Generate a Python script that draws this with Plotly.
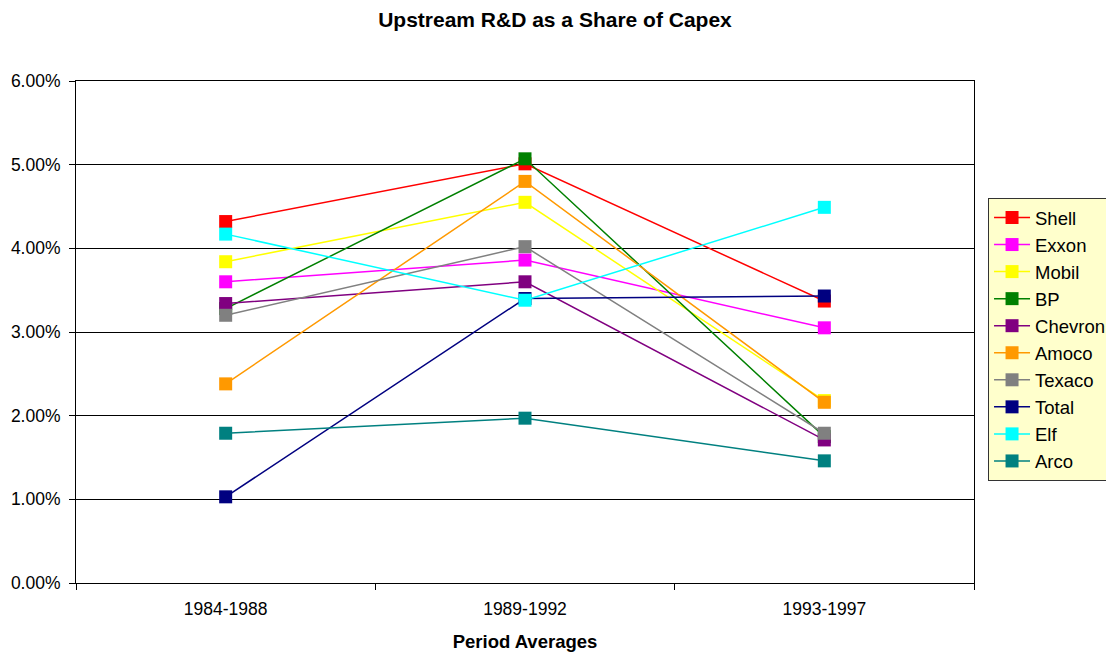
import plotly.graph_objects as go

periods = ["1984-1988", "1989-1992", "1993-1997"]
companies = ["Shell", "Exxon", "Mobil", "BP", "Chevron", "Amoco", "Texaco", "Total", "Elf", "Arco"]
shell = [0.0432, 0.0501, 0.0337]
exxon = [0.0360, 0.0386, 0.0305]
mobil = [0.0384, 0.0455, 0.0218]
bp = [0.0328, 0.0507, 0.0175]
chevron = [0.0334, 0.0360, 0.0171]
amoco = [0.0238, 0.0480, 0.0216]
texaco = [0.0320, 0.0402, 0.0179]
total = [0.0103, 0.0340, 0.0343]
elf = [0.0417, 0.0338, 0.0449]
arco = [0.0179, 0.0197, 0.0146]
series = [shell, exxon, mobil, bp, chevron, amoco, texaco, total, elf, arco]
colors = ["#FF0000", "#FF00FF", "#FFFF00", "#008000", "#800080",
          "#FF9900", "#808080", "#000080", "#00FFFF", "#008080"]
y_ticks = [0, 0.01, 0.02, 0.03, 0.04, 0.05, 0.06]

fig = go.Figure()
for name, vals, col in zip(companies, series, colors):
    fig.add_trace(go.Scatter(
        x=periods, y=vals, name=name, mode="lines+markers",
        line=dict(color=col, width=1.5),
        marker=dict(symbol="square", size=13, color=col),
    ))

fig.update_layout(
    width=1114, height=653,
    margin=dict(l=68, r=147, t=73, b=78),
    paper_bgcolor="white", plot_bgcolor="white",
    font=dict(family="Liberation Sans, Arial, sans-serif", color="black"),
    title=dict(text="<b>Upstream R&D as a Share of Capex</b>",
               x=0.491, xanchor="center", y=0.982, yanchor="middle",
               font=dict(size=21)),
    showlegend=True,
    legend=dict(x=1.0145, xanchor="left", y=0.767, yanchor="top",
                bgcolor="#FFFFCC", bordercolor="#333333", borderwidth=1,
                font=dict(size=18.5), tracegroupgap=0,
                itemwidth=36),
)
fig.update_xaxes(
    type="category", range=[-0.5, 2.5], tickson="boundaries",
    ticks="outside", ticklen=6, ticklabelstandoff=10, automargin=False,
    tickcolor="black", showline=True, linecolor="black", linewidth=1,
    mirror=True, showgrid=False, tickfont=dict(size=17.5),
    title=dict(text="<b>Period Averages</b>", font=dict(size=18.5), standoff=17),
)
fig.update_yaxes(
    range=[0, 0.06], tickvals=y_ticks, tickformat=".2%",
    ticks="outside", ticklen=6, ticklabelstandoff=5, automargin=False,
    tickcolor="black",
    showline=True, linecolor="black", linewidth=1, mirror=True,
    showgrid=True, gridcolor="black", gridwidth=1, zeroline=False,
    tickfont=dict(size=17.5),
)

fig.write_html("out.html")
